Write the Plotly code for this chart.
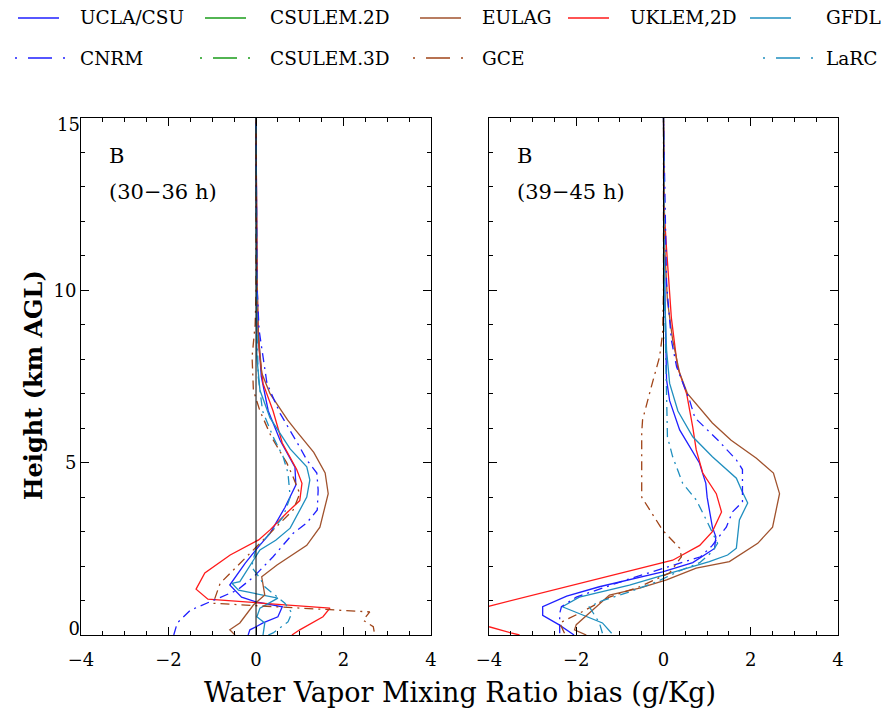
import plotly.graph_objects as go

# ---------------- data (x = bias g/kg, z = height km) ----------------
# Left panel (30-36 h)
L_ucla_z = [0, 0.15, 0.24, 0.35, 0.53, 0.82, 0.96, 1.1, 1.45, 2.08, 2.55, 2.95, 3.7, 4.35, 4.87, 5.65, 6.5, 7.5, 9, 11, 15]
L_ucla_x = [-0.18, -0.14, 0, 0.16, 0.5, 0.6, 0, -0.33, -0.6, -0.25, 0.05, 0.32, 0.66, 0.91, 0.89, 0.55, 0.28, 0.12, 0.04, 0.02, 0]
L_uklem_z = [0, 0.15, 0.53, 0.78, 1.04, 1.33, 1.8, 2.32, 2.76, 3.05, 3.54, 3.9, 4.4, 4.8, 5.57, 6.5, 7.3, 8.27, 9.2, 11, 15]
L_uklem_x = [0.82, 1.0, 1.53, 1.69, -1.1, -1.37, -1.17, -0.59, 0.06, 0.32, 0.7, 1.0, 1.05, 0.93, 0.6, 0.39, 0.16, 0.07, 0.04, 0.02, 0]
L_gfdl_z = [0, 0.35, 0.53, 0.78, 1.07, 1.3, 1.5, 1.55, 2.47, 2.75, 3.1, 4.0, 4.5, 4.88, 5.4, 6.3, 7.1, 8.06, 10, 15]
L_gfdl_x = [0.16, 0.2, 0.02, 0.09, 0.5, -0.4, -0.55, -0.37, 0.09, 0.45, 0.78, 1.16, 1.23, 1.16, 0.78, 0.32, 0.09, 0.02, 0.01, 0]
L_eulag_z = [0, 0.15, 0.35, 0.87, 1.16, 1.69, 2.03, 2.6, 3.13, 4.1, 4.7, 5.3, 5.95, 6.24, 7.0, 7.6, 8.76, 10.5, 15]
L_eulag_x = [-0.48, -0.6, -0.37, -0.06, 0.2, 0.13, 0.48, 1.16, 1.46, 1.65, 1.58, 1.32, 0.9, 0.72, 0.32, 0.13, 0.05, 0.02, 0]
L_cnrm_z = [0, 0.35, 0.72, 1.0, 1.3, 1.68, 2.27, 2.95, 3.25, 3.63, 4.2, 4.7, 5.08, 5.45, 6.43, 7.3, 8.85, 10.2, 15]
L_cnrm_x = [-1.88, -1.8, -1.5, -0.98, -0.43, -0.06, 0.39, 0.85, 1.16, 1.4, 1.42, 1.39, 1.16, 1.0, 0.55, 0.25, 0.07, 0.02, 0]
L_gce_z = [0.1, 0.24, 0.43, 0.67, 0.92, 1.5, 2.38, 3.05, 3.63, 4.1, 4.58, 5.0, 5.75, 6.5, 7.1, 8.07, 9.0, 9.9, 15]
L_gce_x = [2.7, 2.68, 2.45, 2.6, -0.98, -0.82, -0.13, 0.39, 0.85, 1.0, 0.85, 0.7, 0.35, 0.09, -0.06, -0.09, -0.02, 0, 0]
L_larc_z = [0, 0.06, 0.38, 0.64, 0.92, 1.16, 1.4, 1.65, 1.97, 2.2, 2.5, 2.95, 3.43, 4.0, 4.7, 5.17, 5.75, 6.5, 7.5, 9, 15]
L_larc_x = [0.28, 0.39, 0.73, 0.82, 0.66, 0.43, 0.2, 0.09, -0.1, -0.06, 0, 0.32, 0.62, 0.78, 0.73, 0.62, 0.39, 0.15, 0.05, 0.02, 0]

# Right panel (39-45 h)
R_ucla_z = [0, 0.3, 0.57, 0.82, 1.13, 1.4, 1.83, 2.1, 2.51, 2.85, 3.13, 4.0, 4.4, 5.0, 5.95, 6.8, 7.4, 8.76, 10.7, 15]
R_ucla_x = [-2.05, -2.4, -2.77, -2.77, -2.22, -1.47, -0.02, 0.67, 1.17, 1.2, 1.12, 1.0, 0.97, 0.82, 0.37, 0.14, 0.07, 0.05, 0.02, 0]
R_uklem_z = [0, 0.06, 0.24, 0.5, 0.84, 2.17, 2.6, 3.0, 3.57, 4.1, 4.7, 5.37, 6.03, 7.0, 7.78, 9.2, 11.2, 12.2, 15]
R_uklem_x = [-3.3, -3.5, -4.0, -4.6, -3.99, 0.21, 0.83, 1.12, 1.33, 1.21, 0.9, 0.75, 0.67, 0.53, 0.32, 0.18, 0.07, 0.02, 0]
R_gfdl_z = [0.05, 0.35, 0.82, 1.1, 1.45, 1.88, 2.13, 2.32, 2.52, 3.34, 3.83, 4.2, 4.55, 5.17, 5.75, 6.5, 7.3, 8.27, 9.7, 15]
R_gfdl_x = [-1.19, -1.4, -2.32, -1.93, -0.78, 0.37, 1.05, 1.47, 1.67, 1.74, 1.93, 1.79, 1.67, 1.12, 0.67, 0.33, 0.14, 0.07, 0.03, 0]
R_eulag_z = [0, 0.15, 0.3, 1.16, 1.36, 1.6, 1.94, 2.13, 2.66, 3.13, 4.1, 4.7, 5.13, 5.65, 6.15, 6.6, 7.0, 7.6, 8.56, 9.7, 11.2, 15]
R_eulag_x = [-1.77, -2.04, -2.0, -1.24, -0.55, 0.07, 0.75, 1.51, 2.16, 2.5, 2.66, 2.52, 2.13, 1.55, 1.12, 0.83, 0.55, 0.37, 0.21, 0.09, 0.03, 0]
R_cnrm_z = [0.05, 0.63, 0.82, 1.1, 1.6, 1.94, 2.27, 2.6, 3.13, 3.57, 3.86, 4.8, 5.08, 5.65, 6.3, 6.8, 7.78, 8.56, 10.2, 15]
R_cnrm_x = [-2.38, -2.38, -2.34, -2.0, -0.85, 0.02, 0.85, 1.12, 1.44, 1.58, 1.81, 1.81, 1.67, 1.25, 0.72, 0.6, 0.3, 0.18, 0.07, 0]
R_gce_z = [0.05, 0.35, 0.63, 1.1, 1.4, 1.8, 2.27, 2.52, 3.04, 4.0, 5.86, 6.24, 7.2, 8.07, 8.76, 10, 15]
R_gce_x = [-2.27, -2.38, -1.93, -1.24, -0.55, 0.14, 0.41, 0.37, -0.02, -0.5, -0.5, -0.48, -0.28, -0.09, -0.02, 0, 0]
R_larc_z = [0.05, 0.35, 0.82, 1.0, 1.22, 1.54, 1.85, 2.1, 2.42, 2.66, 3.34, 3.92, 4.4, 5.17, 5.75, 6.8, 7.8, 10, 15]
R_larc_x = [-1.4, -1.47, -1.7, -1.4, -0.85, -0.16, 0.35, 0.83, 1.12, 1.24, 0.98, 0.75, 0.44, 0.21, 0.09, 0.07, 0.05, 0.02, 0]

x_ticks = [-4, -2, 0, 2, 4]
y_ticks_all = [0, 5, 10, 15]
y_ticks_mid_text = ["", "5", "10", ""]
y_tick_bottom = [0]
y_tick_top = [15]
panel_labels = [["B", "(30\u221236 h)"], ["B", "(39\u221245 h)"]]

BLUE = "#1f1fff"
GREEN = "#1a9c1a"
SIENNA = "#a0522d"
GCEC = "#a04418"
RED = "#ff1a1a"
TEAL = "#1f8fbf"
DASHDOT = "9px,5px,2px,5px"

series = [
    ("UCLA/CSU", BLUE, "solid", L_ucla_z, L_ucla_x, R_ucla_z, R_ucla_x),
    ("UKLEM,2D", RED, "solid", L_uklem_z, L_uklem_x, R_uklem_z, R_uklem_x),
    ("GFDL", TEAL, "solid", L_gfdl_z, L_gfdl_x, R_gfdl_z, R_gfdl_x),
    ("EULAG", SIENNA, "solid", L_eulag_z, L_eulag_x, R_eulag_z, R_eulag_x),
    ("CNRM", BLUE, DASHDOT, L_cnrm_z, L_cnrm_x, R_cnrm_z, R_cnrm_x),
    ("GCE", GCEC, DASHDOT, L_gce_z, L_gce_x, R_gce_z, R_gce_x),
    ("LaRC", TEAL, DASHDOT, L_larc_z, L_larc_x, R_larc_z, R_larc_x),
]

FONT = "DejaVu Serif"
TICKFONT = dict(family=FONT, size=18, color="black")
fig = go.Figure()
for name, col, dash, lz, lx, rz, rx in series:
    fig.add_trace(go.Scatter(x=lx, y=lz, mode="lines", name=name, showlegend=False,
                             line=dict(color=col, width=1.3, dash=dash), xaxis="x", yaxis="y"))
    fig.add_trace(go.Scatter(x=rx, y=rz, mode="lines", name=name, showlegend=False,
                             line=dict(color=col, width=1.3, dash=dash), xaxis="x2", yaxis="y2"))
# invisible carriers for the extra label-only y axes
for ya in ["y3", "y4"]:
    fig.add_trace(go.Scatter(x=[None], y=[None], mode="lines", showlegend=False,
                             hoverinfo="skip", xaxis="x", yaxis=ya))

axis_common = dict(showline=True, linecolor="black", linewidth=1, mirror="ticks",
                   ticks="inside", ticklen=8, tickcolor="black", showgrid=False, zeroline=False,
                   tickfont=TICKFONT)
fig.update_layout(
    width=883, height=719,
    margin=dict(l=81, r=45, t=118, b=84),
    plot_bgcolor="white", paper_bgcolor="white",
    xaxis=dict(domain=[0, 0.4624], range=[-4, 4], tickvals=x_ticks, anchor="y", ticklabelstandoff=8,
               minor=dict(dtick=0.5, ticks="inside", ticklen=4, tickcolor="black"), **axis_common),
    xaxis2=dict(domain=[0.539, 1], range=[-4, 4], tickvals=x_ticks, anchor="y2", ticklabelstandoff=8,
                minor=dict(dtick=0.5, ticks="inside", ticklen=4, tickcolor="black"), **axis_common),
    yaxis=dict(range=[0, 15], tickvals=y_ticks_all, ticktext=y_ticks_mid_text, anchor="x",
               minor=dict(dtick=1, ticks="inside", ticklen=4, tickcolor="black"), **axis_common),
    yaxis2=dict(range=[0, 15], tickvals=y_ticks_all, anchor="x2", showticklabels=False,
                minor=dict(dtick=1, ticks="inside", ticklen=4, tickcolor="black"), **axis_common),
    yaxis3=dict(range=[0, 15], tickvals=y_tick_bottom, overlaying="y", anchor="x", side="left",
                showline=False, ticks="", showgrid=False, zeroline=False, tickfont=TICKFONT,
                ticklabelshift=-6),
    yaxis4=dict(range=[0, 15], tickvals=y_tick_top, overlaying="y", anchor="x", side="left",
                showline=False, ticks="", showgrid=False, zeroline=False, tickfont=TICKFONT,
                ticklabelshift=7),
)

# zero reference lines
for xr, yr in [("x", "y"), ("x2", "y2")]:
    fig.add_shape(type="line", xref=xr, yref=yr, x0=0, x1=0, y0=0, y1=15,
                  line=dict(color="black", width=1))

# panel labels
for (b, per), xr, yr in zip(panel_labels, ["x", "x2"], ["y", "y2"]):
    fig.add_annotation(x=-3.4, y=13.9, xref=xr, yref=yr, text=b, showarrow=False,
                       xanchor="left", font=dict(family=FONT, size=21, color="black"))
    fig.add_annotation(x=-3.4, y=12.85, xref=xr, yref=yr, text=per, showarrow=False,
                       xanchor="left", font=dict(family=FONT, size=21, color="black"))

# axis titles
fig.add_annotation(x=0.5, y=-0.112, xref="paper", yref="paper", showarrow=False,
                   text="Water Vapor Mixing Ratio bias (g/Kg)", yanchor="middle",
                   font=dict(family=FONT, size=27, color="black"))
fig.add_annotation(x=-0.063, y=0.484, xref="paper", yref="paper", showarrow=False,
                   text="<b>Height (km AGL)</b>", textangle=-90, xanchor="center", yanchor="middle",
                   font=dict(family=FONT, size=24, color="black"))

# custom legend (pixel positions converted to paper coords)
def px(xp):
    return (xp - 81) / 757.0

def py(yp):
    return (635 - yp) / 517.0

legend_items = [
    ("UCLA/CSU", BLUE, False, 18, 78, 18),
    ("CSULEM.2D", GREEN, False, 205, 268, 18),
    ("EULAG", SIENNA, False, 420, 480, 18),
    ("UKLEM,2D", RED, False, 568, 628, 18),
    ("GFDL", TEAL, False, 750, 824, 18),
    ("CNRM", BLUE, True, 15, 78, 58),
    ("CSULEM.3D", GREEN, True, 200, 268, 58),
    ("GCE", GCEC, True, 413, 480, 58),
    ("LaRC", TEAL, True, 763, 824, 58),
]
for name, col, dd, x0, xt, yy in legend_items:
    if dd:
        fig.add_shape(type="line", xref="paper", yref="paper", x0=px(x0), x1=px(x0 + 50),
                      y0=py(yy), y1=py(yy),
                      line=dict(color=col, width=1.5, dash="2px,11px,24px,11px,2px,100px"))
    else:
        fig.add_shape(type="line", xref="paper", yref="paper", x0=px(x0), x1=px(x0 + 41),
                      y0=py(yy), y1=py(yy), line=dict(color=col, width=1.5))
    fig.add_annotation(x=px(xt), y=py(yy), xref="paper", yref="paper", text=name,
                       showarrow=False, xanchor="left", yanchor="middle",
                       font=dict(family=FONT, size=18.5, color="black"))

fig.write_html("out.html")
